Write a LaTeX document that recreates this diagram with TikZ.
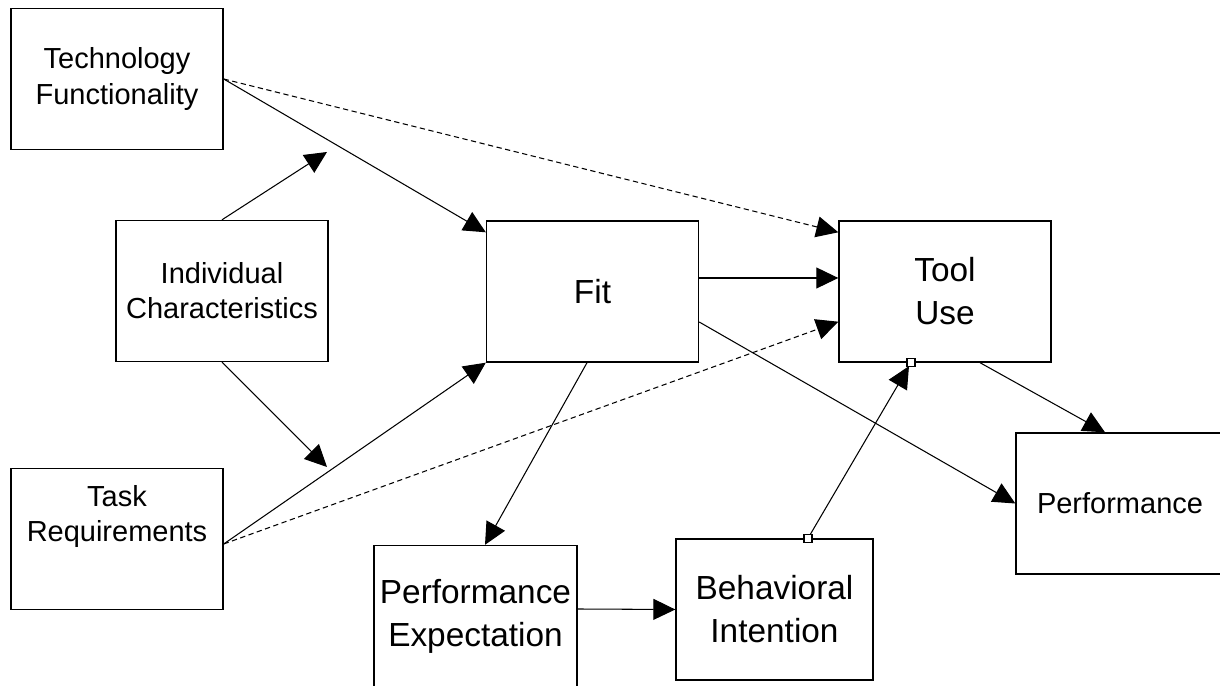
\documentclass[tikz,border=0pt]{standalone}
\usepackage{fontspec}
\setmainfont{Liberation Sans}
\usetikzlibrary{arrows.meta}

\begin{document}
\begin{tikzpicture}[
		box/.style={draw, line width=0.8pt, minimum width=4.24cm, minimum height=2.82cm,
			align=center, font=\fontsize{16.5}{20}\selectfont},
		bigbox/.style={box, font=\fontsize{19}{24.5}\selectfont},
		link/.style={line width=0.6pt, -{Triangle[length=0.44cm, width=0.42cm]}},
		weak/.style={link, dash pattern=on 3pt off 2pt},
		port/.style={draw, fill=white, line width=0.6pt, minimum size=0.16cm, inner sep=0pt}
	]
	\useasboundingbox (0,0) rectangle (24.4,13.72);
	\node[box] (tf) at ( 2.34,12.14) {Technology\\Functionality};
	\node[box] (ic) at ( 4.44, 7.90) {Individual\\Characteristics};
	\node[box, label={[anchor=north, inner sep=0pt, yshift=-0.34cm, align=center,
		font=\fontsize{16.5}{20}\selectfont]north:Task\\Requirements}] (tr) at ( 2.34, 2.94) {};
	\node[bigbox] (fit)  at (11.85, 7.89) {Fit};
	\node[bigbox] (tool) at (18.90, 7.89) {Tool\\Use};
	\node[bigbox, minimum width=3.94cm] (pe) at ( 9.51, 1.40) {Performance\\Expectation};
	\node[bigbox, minimum width=3.94cm] (bi) at (15.49, 1.53) {Behavioral\\Intention};
	\node[box, minimum width=4.16cm] (perf) at (22.40, 3.65) {Performance};
	\coordinate (m1) at (6.54,10.68);
	\coordinate (m2) at (6.54, 4.38);
	\draw[link] (tf.east) -- ([yshift=-0.24cm]fit.north west);
	\draw[weak] (tf.east) -- ([yshift=-0.24cm]tool.north west);
	\draw[link] (ic.north) -- (m1);
	\draw[link] (ic.south) -- (m2);
	\draw[link] ([yshift=-0.1cm]tr.east) -- (fit.south west);
	\draw[weak] ([yshift=-0.1cm]tr.east) -- ([yshift=0.82cm]tool.south west);
	\draw[link] ([yshift=0.27cm]fit.east) -- ([yshift=0.27cm]tool.west);
	\draw[link] ([yshift=-0.61cm]fit.east) -- (perf.west);
	\draw[link] ([xshift=0.7cm]tool.south) -- ([xshift=-0.3cm]perf.north);
	\draw[link] ([xshift=-0.11cm]fit.south) -- ([xshift=0.19cm]pe.north);
	\draw[link] ([yshift=0.14cm]pe.east) -- (bi.west);
	\draw[link, shorten >=0.08cm] ([xshift=0.67cm]bi.north) -- ([xshift=-0.68cm]tool.south);
	\node[port] (p1) at ([xshift=0.67cm]bi.north) {};
	\node[port] (p2) at ([xshift=-0.68cm]tool.south) {};
\end{tikzpicture}
\end{document}
